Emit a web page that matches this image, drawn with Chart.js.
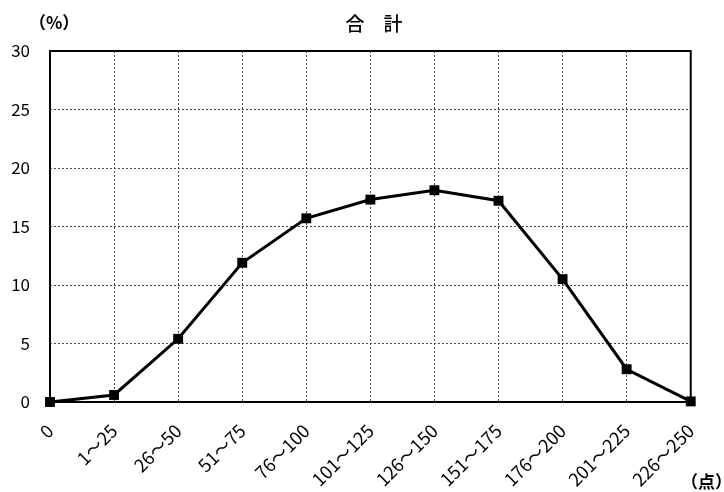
<!DOCTYPE html>
<html>
<head>
<meta charset="utf-8">
<script src="https://cdn.jsdelivr.net/npm/chart.js@4"></script>
<style>
html,body{margin:0;padding:0;background:#fff;}
#wrap{width:724px;height:492px;position:relative;}
</style>
</head>
<body>
<div id="wrap"><canvas id="c"></canvas></div>
<script>
const categories = ["0","1～25","26～50","51～75","76～100","101～125","126～150","151～175","176～200","201～225","226～250"];
const values = [0, 0.6, 5.4, 11.9, 15.7, 17.3, 18.1, 17.2, 10.5, 2.8, 0.05];
const yTicks = [0, 5, 10, 15, 20, 25, 30];
const titleText = "合　計";
const yUnit = "（%）";
const xUnit = "（点）";

const FONT = '"Noto Sans CJK JP", "DejaVu Sans", sans-serif';

const extras = {
  id: 'extras',
  beforeDatasetsDraw(chart) {
    const {ctx, chartArea: a} = chart;
    ctx.save();
    ctx.strokeStyle = '#000';
    ctx.lineWidth = 2;
    ctx.strokeRect(a.left, a.top, a.right - a.left, a.bottom - a.top);
    ctx.restore();
  },
  afterDraw(chart) {
    const {ctx} = chart;
    ctx.save();
    ctx.fillStyle = '#000';
    ctx.textBaseline = 'middle';
    ctx.textAlign = 'center';
    ctx.font = '500 19px ' + FONT;
    ctx.fillText(titleText, 374, 24);
    ctx.textAlign = 'left';
    ctx.font = 'bold 17px ' + FONT;
    ctx.fillText(yUnit, 29, 23);
    ctx.fillText(xUnit, 681, 482);
    ctx.restore();
  }
};

new Chart(document.getElementById('c'), {
  type: 'line',
  data: {
    labels: categories,
    datasets: [{
      data: values,
      borderColor: '#000',
      backgroundColor: '#000',
      borderWidth: 3,
      pointStyle: 'rect',
      pointRadius: 7,
      pointHoverRadius: 7,
      pointBorderWidth: 0,
      tension: 0,
      clip: false
    }]
  },
  options: {
    responsive: true,
    maintainAspectRatio: false,
    animation: false,
    layout: {padding: {top: 51, right: 33, left: 0, bottom: 0}},
    plugins: {legend: {display: false}, title: {display: false}, tooltip: {enabled: false}},
    scales: {
      x: {
        offset: false,
        afterFit: s => { s.height = 90; },
        grid: {color: '#444', lineWidth: 1, drawTicks: false},
        border: {display: false, dash: [2, 2]},
        ticks: {
          color: '#000', font: {family: FONT, size: 18}, padding: 18,
          maxRotation: 45, minRotation: 45, autoSkip: false
        }
      },
      y: {
        min: 0, max: 30,
        afterFit: s => { s.width = 50; },
        afterBuildTicks: s => { s.ticks = yTicks.map(v => ({value: v})); },
        grid: {color: '#444', lineWidth: 1, drawTicks: false},
        border: {display: false, dash: [2, 2]},
        ticks: {color: '#000', font: {family: FONT, size: 17}, padding: 20}
      }
    }
  },
  plugins: [extras]
});
</script>
</body>
</html>
